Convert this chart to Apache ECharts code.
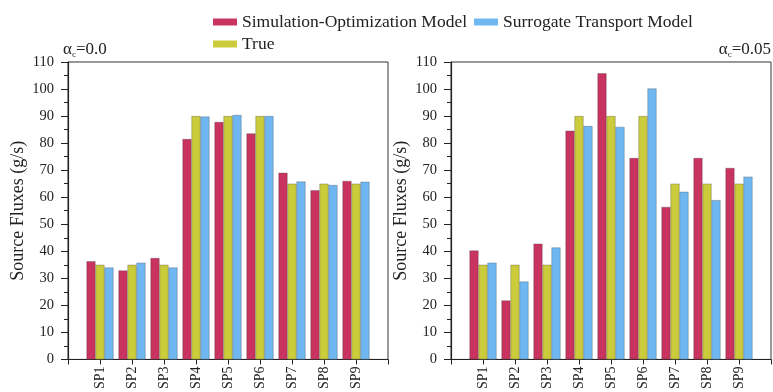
<!DOCTYPE html>
<html><head><meta charset="utf-8">
<script src="https://cdn.jsdelivr.net/npm/echarts@6/dist/echarts.min.js"></script>
<style>html,body{margin:0;padding:0;background:#fff}#c{width:773px;height:392px}</style>
</head><body><div id="c"></div>
<script>
var categories = ['SP1','SP2','SP3','SP4','SP5','SP6','SP7','SP8','SP9'];
var yTicks = [0,10,20,30,40,50,60,70,80,90,100,110];
// alpha_c = 0.0
var simLeft  = [36.3, 32.9, 37.5, 81.5, 87.8, 83.6, 69.0, 62.6, 66.0];
var trueLeft = [35, 35, 35, 90, 90, 90, 65, 65, 65];
var surLeft  = [34.0, 35.8, 34.0, 89.8, 90.4, 90.0, 65.8, 64.5, 65.7];
// alpha_c = 0.05
var simRight  = [40.3, 21.8, 42.8, 84.6, 105.8, 74.5, 56.4, 74.5, 70.8];
var trueRight = [35, 35, 35, 90, 90, 90, 65, 65, 65];
var surRight  = [35.8, 28.8, 41.4, 86.3, 86.0, 100.2, 62.0, 58.9, 67.6];

var names = ['Simulation-Optimization Model','True','Surrogate Transport Model'];
var colors = ['#c8335f','#cccb3b','#6fb7f1'];
var FONT = 'Liberation Serif';

function pad(a){ return ['-'].concat(a).concat(['-']); }
var cats = [''].concat(categories).concat(['']);

var grids = [
  {left:68, right:385, top:62, bottom:30, show:true, borderColor:'#333', borderWidth:1},
  {left:451, right:2, top:62, bottom:29, show:true, borderColor:'#333', borderWidth:1}
];
function xAxis(i){
  return {type:'category', gridIndex:i, data:cats, boundaryGap:false,
    axisLine:{lineStyle:{color:'#222', width:1.2}},
    axisTick:{show:true, length:5, lineStyle:{color:'#222'}},
    axisLabel:{interval:0, rotate:90, fontFamily:FONT, fontSize:14, color:'#222', margin:7},
    splitLine:{show:false}};
}
function yAxis(i){
  return {type:'value', gridIndex:i, min:yTicks[0], max:yTicks[yTicks.length-1], interval:10,
    name:'Source Fluxes (g/s)', nameLocation:'middle', nameGap:41,
    nameTextStyle:{fontFamily:FONT, fontSize:18, color:'#222'},
    axisLine:{show:true, lineStyle:{color:'#222', width:1.2}},
    axisTick:{show:true, length:7, lineStyle:{color:'#222'}},
    minorTick:{show:true, splitNumber:2, length:4, lineStyle:{color:'#222'}},
    axisLabel:{fontFamily:FONT, fontSize:14.5, color:'#222', margin:14},
    splitLine:{show:false}};
}
var sets = [[simLeft,trueLeft,surLeft],[simRight,trueRight,surRight]];
var series = [];
for (var g=0; g<2; g++){
  for (var s=0; s<3; s++){
    series.push({type:'bar', name:names[s], xAxisIndex:g, yAxisIndex:g,
      data:pad(sets[g][s]), barWidth:9, barGap:'0%',
      itemStyle:{color:colors[s], borderColor:'rgba(60,60,60,0.6)', borderWidth:0.5}});
  }
}
var rich = {a:{fontFamily:FONT, fontSize:17, fontWeight:'normal', color:'#222'},
            s:{fontFamily:FONT, fontSize:9, fontWeight:'normal', color:'#222', verticalAlign:'bottom', padding:[9,0,0,0]}};
var legendCommon = {icon:'rect', itemWidth:24, itemHeight:7, itemGap:7, padding:0,
  itemStyle:{borderWidth:0}, textStyle:{fontFamily:FONT, fontSize:17.5, color:'#222'}};
var chart = echarts.init(document.getElementById('c'), null, {renderer:'canvas'});
chart.setOption({
  backgroundColor:'#fff',
  animation:false,
  title:[
    {text:'{a|α}{s|c}{a|=0.0}', left:63, top:41, textStyle:{rich:rich}, padding:0},
    {text:'{a|α}{s|c}{a|=0.05}', right:2, top:41, textStyle:{rich:rich}, padding:0}
  ],
  legend:[
    Object.assign({data:[names[0], names[2]], left:213, top:13}, legendCommon),
    Object.assign({data:[names[1]], left:213, top:35}, legendCommon)
  ],
  grid:grids,
  xAxis:[xAxis(0), xAxis(1)],
  yAxis:[yAxis(0), yAxis(1)],
  series:series
});
</script></body></html>
